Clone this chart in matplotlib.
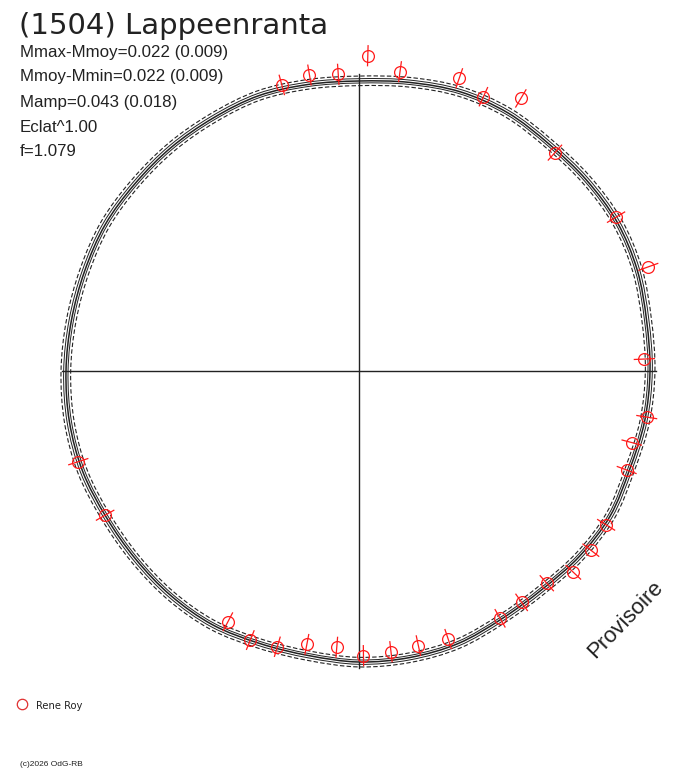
"""
Polar light curve of (1504) Lappeenranta.
"""

import matplotlib
matplotlib.use('Agg')
import matplotlib.pyplot as plt
from matplotlib.path import Path
from matplotlib.patches import PathPatch
import numpy as np

plt.rcParams['font.family'] = ['Liberation Sans', 'DejaVu Sans']

# model curve: radius (relative units, 290 = mean) every 10 deg of phase angle
curve_angle = np.arange(0, 360, 10)
curve_radius = [291, 292, 296, 298, 297, 296, 298, 297, 293, 290,
                291, 293, 292, 292, 292, 293, 292, 292, 293, 294,
                294, 292, 292, 293, 293, 290, 289, 291, 291, 290,
                286, 285, 288, 290, 288, 290]

# observations: phase angle (deg), radius, error
obs_angle = [2.4, 19.8, 30.9, 48.1, 59.3, 65.6, 71.1, 82.2, 88.4, 94.0,
             99.5, 105.1, 197.9, 209.6, 242.4, 248.0, 253.5, 259.2, 265.4, 270.9,
             276.5, 282.2, 288.4, 299.7, 305.1, 311.5, 316.8, 322.3, 328.1, 339.7,
             345.3, 350.9]
obs_radius = [285.6, 307.5, 299.6, 293.4, 317.0, 301.2, 309.4, 302.1, 315.4, 297.4,
              300.1, 296.3, 295.0, 292.0, 283.0, 290.2, 287.6, 278.3, 277.2, 284.7,
              282.5, 281.0, 282.5, 284.7, 282.8, 283.4, 294.0, 293.0, 291.1, 285.4,
              282.0, 291.4]
obs_err = [10, 10, 10, 10, 10, 10, 10, 10, 10, 10,
           10, 10, 10, 10, 10, 10, 10, 10, 10, 10,
           10, 10, 10, 10, 10, 10, 10, 10, 10, 10,
           10, 10]

info_lines = ['Mmax-Mmoy=0.022 (0.009)', 'Mmoy-Mmin=0.022 (0.009)',
              'Mamp=0.043 (0.018)', 'Eclat^1.00', 'f=1.079']

# drawing setup (pixel-like coordinates)
CX, CY = 359, 371
AXIS_HALF = 297
INK = '#222222'
RED = '#ff1a1a'


def to_xy(ang_deg, rad):
    a = np.radians(np.asarray(ang_deg, dtype=float))
    r = np.asarray(rad, dtype=float)
    return CX + r * np.cos(a), CY - r * np.sin(a)


def closed_smooth_path(x, y):
    """Closed Bezier path through the points (Catmull-Rom control points)."""
    pts = np.column_stack([x, y])
    n = len(pts)
    verts = [pts[0]]
    codes = [Path.MOVETO]
    for i in range(n):
        p0, p1 = pts[i - 1], pts[i]
        p2, p3 = pts[(i + 1) % n], pts[(i + 2) % n]
        verts += [p1 + (p2 - p0) / 6, p2 - (p3 - p1) / 6, p2]
        codes += [Path.CURVE4] * 3
    return Path(verts, codes)


fig = plt.figure(figsize=(6.88, 7.68), dpi=100)
ax = fig.add_axes([0, 0, 1, 1])
ax.set_xlim(0, 688)
ax.set_ylim(768, 0)
ax.axis('off')

# cross axes
ax.plot([CX - AXIS_HALF, CX + AXIS_HALF], [CY, CY], color=INK, lw=1.0)
ax.plot([CX, CX], [CY - AXIS_HALF, CY + AXIS_HALF], color=INK, lw=1.0)

# bundle of model curves
rad_c = np.asarray(curve_radius, dtype=float)
bundle = [(-0.016, '--', 0.8), (-0.007, '-', 0.7), (0.0, '-', 1.1),
          (0.008, '-', 0.7), (0.017, '--', 0.8)]
for k, ls, lw in bundle:
    x, y = to_xy(curve_angle, rad_c * (1 + k))
    patch = PathPatch(closed_smooth_path(x, y), fill=False, edgecolor=INK,
                      lw=lw, ls=(0, (4, 2)) if ls == '--' else '-')
    ax.add_patch(patch)

# observations with radial error bars
ox, oy = to_xy(obs_angle, obs_radius)
for a, r, e in zip(obs_angle, obs_radius, obs_err):
    ex, ey = to_xy([a, a], [r - e, r + e])
    ax.plot(ex, ey, color=RED, lw=0.9)
ax.plot(ox, oy, 'o', mfc='none', mec=RED, mew=0.9, ms=8.5)

# texts
ax.text(19, 33.5, '(1504) Lappeenranta', fontsize=21, color=INK, va='baseline',
        family=['DejaVu Sans'])
for i, s in enumerate(info_lines):
    ax.text(20, 56.5 + 25 * i, s, fontsize=12.2, color=INK, va='baseline')

ax.text(625, 620, 'Provisoire', fontsize=16, color=INK, rotation=46,
        ha='center', va='center', rotation_mode='anchor')

ax.plot([22.3], [704.3], 'o', mfc='none', mec='#e03030', mew=0.9, ms=7.5)
ax.text(35.5, 709.3, 'Rene Roy', fontsize=7.2, color=INK, va='baseline',
        family=['DejaVu Sans'])
ax.text(20, 766, '(c)2026 OdG-RB', fontsize=6.0, color=INK, va='baseline')

fig.savefig('out.png', dpi=100)
